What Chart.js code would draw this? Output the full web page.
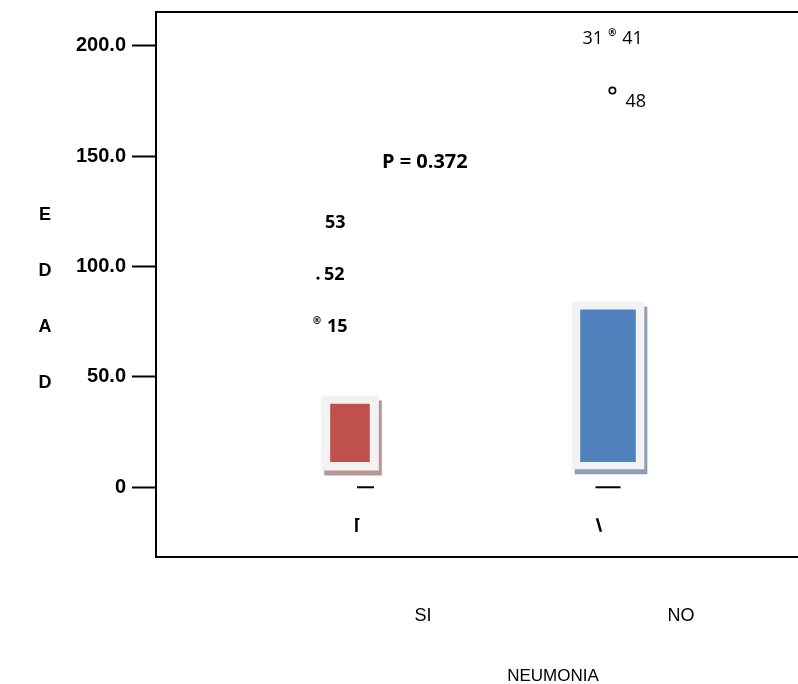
<!DOCTYPE html>
<html>
<head>
<meta charset="utf-8">
<title>EDAD por NEUMONIA</title>
<script src="https://cdn.jsdelivr.net/npm/chart.js@4.4.1/dist/chart.umd.min.js"></script>
<style>
  html, body { margin: 0; padding: 0; background: #fff; }
  canvas { display: block; }
</style>
</head>
<body>
<canvas id="edad-chart" width="798" height="684"></canvas>
<script>
// groups on the x axis
const categories = ['SI', 'NO'];
const groupX = [1, 2];

// light outer box and coloured inner box, [low, high] in years
const outerLow = [7.8, 8.3];
const outerHigh = [41.4, 84.0];
const innerLow = [11.5, 11.5];
const innerHigh = [38.2, 80.9];

const yTicks = [0, 50, 100, 150, 200];

// short dash at zero and the small stroke under each box
const dashX = [1.06, 2.0];
const dashY = [0, 0];
const stemX = [1.025, 1.965];
const stemY = [-17.1, -17.1];

// outliers: mark position, symbol and case numbers
const outlierX = [0.872, 0.876, 0.872, 2.016, 2.017];
const outlierY = [120.6, 94.8, 75.1, 205.9, 179.8];
const outlierMarks = ['', '.', '®', '®', '°'];
const outlierLeft = ['', '', '', '31', ''];
const outlierRight = ['53', '52', '15', '41', '48'];
const outlierGroup = [0, 0, 0, 1, 1];

const pValue = 'P = 0.372';
const pAt = { x: 1.29, y: 147.4 };
const yTitle = ['E', 'D', 'A', 'D'];
const xTitle = 'NEUMONIA';

const boxColors = ['#c0504d', '#4f81bd'];
const shadowColors = ['#b99696', '#8e9db5'];
const outerWidths = [57, 72];
const innerWidths = [41, 57];
const labelFonts = ['bold 18px "Open Sans"', '18px "Open Sans"'];

function boxDatasets(i) {
    return [{
        label: categories[i] + ' exterior',
        data: [{ x: groupX[i], y: [outerLow[i], outerHigh[i]] }],
        backgroundColor: '#f2f2f2',
        barThickness: outerWidths[i],
        grouped: false,
        shadowColor: shadowColors[i],
        order: 3
    }, {
        label: categories[i],
        data: [{ x: groupX[i], y: [innerLow[i], innerHigh[i]] }],
        backgroundColor: boxColors[i],
        borderColor: 'rgba(255,255,255,0.35)',
        borderWidth: 1,
        barThickness: innerWidths[i],
        grouped: false,
        order: 2
    }];
}

function noPadding(scale) {
    scale.paddingTop = 0;
    scale.paddingBottom = 0;
    scale.paddingLeft = 0;
    scale.paddingRight = 0;
}

const shadowPlugin = {
    id: 'boxShadow',
    beforeDatasetDraw(chart, args) {
        const ds = chart.data.datasets[args.index];
        if (!ds.shadowColor) return;
        const ctx = chart.ctx;
        ctx.save();
        ctx.shadowColor = ds.shadowColor;
        ctx.shadowOffsetX = 3;
        ctx.shadowOffsetY = 5;
        ctx.shadowBlur = 0;
    },
    afterDatasetDraw(chart, args) {
        if (chart.data.datasets[args.index].shadowColor) chart.ctx.restore();
    }
};

const textPlugin = {
    id: 'chartText',
    afterDraw(chart) {
        const ctx = chart.ctx;
        const area = chart.chartArea;
        const xs = chart.scales.x;
        const ys = chart.scales.y;

        // frame (open on the right)
        ctx.save();
        ctx.strokeStyle = '#000';
        ctx.lineWidth = 2;
        ctx.beginPath();
        ctx.moveTo(area.right + 5, area.top);
        ctx.lineTo(area.left, area.top);
        ctx.lineTo(area.left, area.bottom);
        ctx.lineTo(area.right + 5, area.bottom);
        ctx.stroke();

        // hook on top of the first stroke
        const stems = chart.getDatasetMeta(chart.data.datasets.length - 2).data;
        if (stems[0]) {
            ctx.beginPath();
            ctx.moveTo(stems[0].x - 1, stems[0].y - 6);
            ctx.lineTo(stems[0].x + 3, stems[0].y - 6);
            ctx.stroke();
        }

        // outlier symbols and case numbers
        const meta = chart.getDatasetMeta(chart.data.datasets.length - 1);
        ctx.fillStyle = '#000';
        meta.data.forEach((pt, i) => {
            const mark = outlierMarks[i];
            let gap = 8, dy = 0;
            if (mark === '.') {
                ctx.beginPath();
                ctx.arc(pt.x, pt.y, 1.7, 0, Math.PI * 2);
                ctx.fill();
                gap = 6; dy = -4.5;
            } else if (mark === '®') {
                ctx.font = 'bold 10px "DejaVu Sans"';
                ctx.textAlign = 'center';
                ctx.textBaseline = 'middle';
                ctx.fillText(mark, pt.x, pt.y);
                gap = 10; dy = 4.5;
            } else if (mark === '°') {
                gap = 13; dy = 10;
            }
            ctx.font = labelFonts[outlierGroup[i]];
            ctx.textBaseline = 'alphabetic';
            const base = pt.y + dy + 6.4;
            ctx.textAlign = 'left';
            ctx.fillText(outlierRight[i], pt.x + gap, base);
            if (outlierLeft[i]) {
                ctx.textAlign = 'right';
                ctx.fillText(outlierLeft[i], pt.x - 9, base);
            }
        });

        // test result
        ctx.font = 'bold 20px "Open Sans"';
        ctx.textAlign = 'center';
        ctx.textBaseline = 'middle';
        ctx.fillText(pValue, xs.getPixelForValue(pAt.x), ys.getPixelForValue(pAt.y));

        // stacked y title
        ctx.font = 'bold 18px "Liberation Sans"';
        yTitle.forEach((ch, i) => ctx.fillText(ch, 45, 215 + i * 56));

        // x title
        ctx.font = '17px "Liberation Sans"';
        ctx.fillText(xTitle, 553, 676);
        ctx.restore();
    }
};

new Chart(document.getElementById('edad-chart'), {
    type: 'bar',
    data: {
        datasets: [
            ...boxDatasets(0),
            ...boxDatasets(1),
            {
                type: 'scatter',
                label: 'cero',
                data: dashX.map((x, i) => ({ x, y: dashY[i] })),
                pointStyle: 'line',
                pointRadius: [8.5, 12.5],
                pointBorderWidth: 2,
                pointBorderColor: '#000',
                order: 1
            },
            {
                type: 'scatter',
                label: 'trazo',
                data: stemX.map((x, i) => ({ x, y: stemY[i] })),
                pointStyle: 'line',
                pointRadius: 7,
                pointRotation: [90, 74],
                pointBorderWidth: 2.5,
                pointBorderColor: '#000',
                order: 1
            },
            {
                type: 'scatter',
                label: 'atipicos',
                data: outlierX.map((x, i) => ({ x, y: outlierY[i] })),
                pointStyle: 'circle',
                pointRadius: ctx => outlierMarks[ctx.dataIndex] === '°' ? 3.2 : 0,
                pointBorderWidth: 1.6,
                pointBorderColor: '#000',
                pointBackgroundColor: 'rgba(255,255,255,0)',
                order: 0
            }
        ]
    },
    options: {
        responsive: false,
        animation: false,
        events: [],
        layout: { autoPadding: false, padding: { top: 12, right: 0, left: 0, bottom: 0 } },
        plugins: {
            legend: { display: false },
            tooltip: { enabled: false }
        },
        scales: {
            x: {
                type: 'linear',
                offset: false,
                min: 0.2481,
                max: 2.7364,
                grid: { display: false, drawTicks: false, offset: false },
                border: { display: false },
                afterBuildTicks: scale => { scale.ticks = groupX.map(v => ({ value: v })); },
                afterFit: scale => { scale.height = 127; noPadding(scale); },
                ticks: {
                    labelOffset: 73,
                    padding: 48,
                    color: '#000',
                    font: { family: 'Liberation Sans', size: 18 },
                    callback: v => categories[groupX.indexOf(v)]
                }
            },
            y: {
                min: -31.6,
                max: 215.4,
                grid: {
                    drawOnChartArea: false,
                    drawTicks: true,
                    tickLength: 24,
                    tickWidth: 2,
                    tickColor: '#000'
                },
                border: { display: false },
                afterBuildTicks: scale => { scale.ticks = yTicks.map(v => ({ value: v })); },
                afterFit: scale => { scale.width = 156; noPadding(scale); },
                ticks: {
                    padding: 6,
                    color: '#000',
                    font: { family: 'Liberation Sans', size: 20, weight: 'bold' },
                    callback: v => v === 0 ? '0' : v.toFixed(1)
                }
            }
        }
    },
    plugins: [shadowPlugin, textPlugin]
});
</script>
</body>
</html>
